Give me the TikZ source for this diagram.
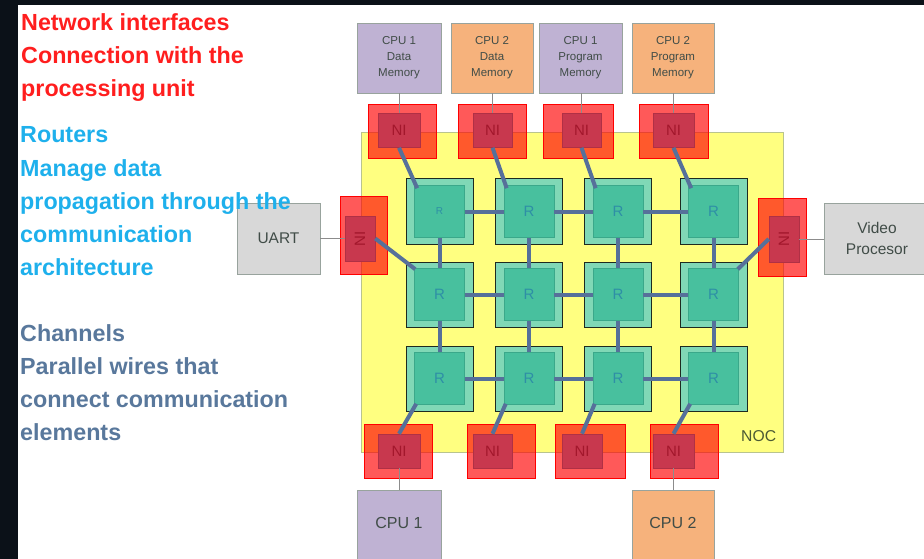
\documentclass[tikz,border=0pt]{standalone}
\usepackage{fontspec}
\setmainfont{Liberation Sans}
\definecolor{bgdark}{HTML}{0B1118}
\definecolor{niRed}{HTML}{FF1E1E}
\definecolor{rtBlue}{HTML}{1EB0EC}
\definecolor{chSlate}{HTML}{59789C}
\definecolor{nocyellow}{HTML}{FFFF80}
\definecolor{nocedge}{HTML}{B9C48E}
\definecolor{noctext}{HTML}{4C5A34}
\definecolor{boxedge}{HTML}{98A39D}
\definecolor{boxtext}{HTML}{404C47}
\definecolor{cpupurple}{HTML}{BFB2D3}
\definecolor{cpuorange}{HTML}{F6B27C}
\definecolor{iogray}{HTML}{D8D8D8}
\definecolor{nicore}{HTML}{C8384E}
\definecolor{nicoreedge}{HTML}{B03045}
\definecolor{nitext}{HTML}{A3172C}
\definecolor{routeredge}{HTML}{1E2A20}
\definecolor{routerlight}{HTML}{80D8B6}
\definecolor{routercore}{HTML}{48C09E}
\definecolor{routercoreedge}{HTML}{3AA88A}
\definecolor{rtext}{HTML}{2E8FA6}
\definecolor{linkblue}{HTML}{56709A}
\definecolor{wiregray}{HTML}{8C8C8C}
\begin{document}
\begin{tikzpicture}[x=1pt,y=-1pt,
  caption/.style={anchor=base west, inner sep=0pt, font=\fontsize{23.3pt}{33pt}\selectfont\bfseries},
  mem/.style={draw=boxedge, line width=0.8pt, inner sep=0pt, minimum height=70pt, align=center,
    text=boxtext, font=\fontsize{11.5pt}{16pt}\selectfont},
  purplebox/.style={mem, fill=cpupurple},
  orangebox/.style={mem, fill=cpuorange},
  iobox/.style={draw=boxedge, line width=0.8pt, fill=iogray, inner sep=0pt, minimum height=71pt,
    align=center, text=boxtext, font=\fontsize{15.5pt}{21pt}\selectfont},
  cpubox/.style={draw=boxedge, line width=0.8pt, inner sep=0pt, minimum width=84pt,
    text height=38pt, text depth=42pt, text=boxtext, font=\fontsize{16pt}{19pt}\selectfont},
  niouter/.style={draw=red, fill=red, fill opacity=0.65, line width=0.8pt, inner sep=0pt},
  niinner/.style={fill=nicore, draw=nicoreedge, line width=0.5pt, inner sep=0pt,
    minimum width=40pt, minimum height=34pt, text=nitext, font=\fontsize{15pt}{15pt}\selectfont},
  router/.style={draw=routeredge, fill=routerlight, line width=1pt, inner sep=0pt,
    minimum width=67pt, minimum height=65pt},
  rcore/.style={fill=routercore, draw=routercoreedge, line width=0.6pt, inner sep=0pt,
    minimum width=50pt, minimum height=52pt, text=rtext, font=\fontsize{15pt}{15pt}\selectfont},
  link/.style={draw=linkblue, line width=4pt},
  wire/.style={draw=wiregray, line width=0.8pt}]

\useasboundingbox (0,0) rectangle (924,559);
\fill[bgdark] (0,0) rectangle (924,559);
\fill[white] (18,5) rectangle (924,559);

% network-on-chip area
\node[draw=nocedge, fill=nocyellow, line width=0.8pt, inner sep=0pt,
      minimum width=422pt, minimum height=320pt] (noc) at (572,292) {};
\node[anchor=base west, inner sep=0pt, text=noctext, font=\fontsize{15.7pt}{16pt}\selectfont]
      (noclabel) at (741,441) {NOC};

% memories, peripherals and processing units
\node[purplebox, minimum width=84pt] (m1) at (399,58) {CPU 1\\Data\\Memory};
\node[orangebox, minimum width=82pt] (m2) at (492,58) {CPU 2\\Data\\Memory};
\node[purplebox, minimum width=83pt] (m3) at (580.5,58) {CPU 1\\Program\\Memory};
\node[orangebox, minimum width=82pt] (m4) at (673,58) {CPU 2\\Program\\Memory};
\node[iobox, minimum width=83pt] (uart) at (278.5,238.5) {UART};
\node[iobox, minimum width=106pt] (video) at (877,238.5) {Video\\Procesor};
\node[cpubox, fill=cpupurple, anchor=north] (cpu1) at (399,490) {CPU 1};
\node[cpubox, fill=cpuorange, anchor=north, minimum width=82pt] (cpu2) at (673,490) {CPU 2};

% translucent network interface frames
\node[niouter, minimum width=68pt, minimum height=54pt] (to1) at (402,131) {};
\node[niouter, minimum width=68pt, minimum height=54pt] (to2) at (492,131) {};
\node[niouter, minimum width=70pt, minimum height=54pt] (to3) at (578,131) {};
\node[niouter, minimum width=69pt, minimum height=54pt] (to4) at (673.5,131) {};
\node[niouter, minimum width=68pt, minimum height=54pt] (bo1) at (398,451) {};
\node[niouter, minimum width=68pt, minimum height=54pt] (bo2) at (501,451) {};
\node[niouter, minimum width=70pt, minimum height=54pt] (bo3) at (590,451) {};
\node[niouter, minimum width=68pt, minimum height=54pt] (bo4) at (684,451) {};
\node[niouter, minimum width=47pt, minimum height=78pt] (lo) at (363.5,235) {};
\node[niouter, minimum width=48pt, minimum height=78pt] (ro) at (782,237) {};

% network interface cores
\node[niinner, minimum width=42pt] (ti1) at (399,130.5) {NI};
\node[niinner, minimum width=39pt] (ti2) at (492.5,130.5) {NI};
\node[niinner, minimum width=39pt] (ti3) at (581.5,130.5) {NI};
\node[niinner, minimum width=41pt] (ti4) at (673.5,130.5) {NI};
\node[niinner, minimum width=42pt] (bi1) at (399,451) {NI};
\node[niinner, minimum width=39pt] (bi2) at (492.5,451) {NI};
\node[niinner, minimum width=40pt] (bi3) at (582,451) {NI};
\node[niinner, minimum width=41pt] (bi4) at (673.5,451) {NI};
\node[niinner, minimum width=30pt, minimum height=45pt] (li) at (360,238.5) {\rotatebox{90}{NI}};
\node[niinner, minimum width=30pt, minimum height=46pt] (ri) at (784,239) {\rotatebox{90}{NI}};

% thin attachment wires
\draw[wire] (ti1.north |- m1.south) -- (ti1.north);
\draw[wire] (ti2.north |- m2.south) -- (ti2.north);
\draw[wire] (ti3.north |- m3.south) -- (ti3.north);
\draw[wire] (ti4.north |- m4.south) -- (ti4.north);
\draw[wire] (bi1.south) -- (bi1.south |- cpu1.north);
\draw[wire] (bi4.south) -- (bi4.south |- cpu2.north);
\draw[wire] (uart.east) -- (li.west);
\draw[wire] (ri.east) -- (ri.east -| video.west);

% routers
\node[router] (o11) at (439.5,211.5) {};
\node[router] (o12) at (529,211.5) {};
\node[router] (o13) at (618,211.5) {};
\node[router] (o14) at (713.5,211.5) {};
\node[router] (o21) at (439.5,294.5) {};
\node[router] (o22) at (529,294.5) {};
\node[router] (o23) at (618,294.5) {};
\node[router] (o24) at (713.5,294.5) {};
\node[router] (o31) at (439.5,378.5) {};
\node[router] (o32) at (529,378.5) {};
\node[router] (o33) at (618,378.5) {};
\node[router] (o34) at (713.5,378.5) {};
\node[rcore, font=\fontsize{10pt}{10pt}\selectfont] (r11) at (o11) {R};
\node[rcore] (r12) at (o12) {R};
\node[rcore] (r13) at (o13) {R};
\node[rcore] (r14) at (o14) {R};
\node[rcore] (r21) at (o21) {R};
\node[rcore] (r22) at (o22) {R};
\node[rcore] (r23) at (o23) {R};
\node[rcore] (r24) at (o24) {R};
\node[rcore] (r31) at (o31) {R};
\node[rcore] (r32) at (o32) {R};
\node[rcore] (r33) at (o33) {R};
\node[rcore] (r34) at (o34) {R};

% channels between routers
\foreach \r in {1,2,3}
  \foreach \a/\b in {1/2,2/3,3/4}
    \draw[link] (r\r\a.east) -- (r\r\b.west);
\foreach \c in {1,2,3,4}
  \foreach \a/\b in {1/2,2/3}
    \draw[link] (r\a\c.south) -- (r\b\c.north);

% channels between interfaces and routers
\foreach \c in {1,2,3,4} {
  \draw[link] (ti\c.south) -- ([shift={(3,3)}]r1\c.north west);
  \draw[link] ([shift={(2,-1)}]r3\c.south west) -- (bi\c.north);
}
\draw[link] (li.east) -- ([shift={(1,1)}]r21.north west);
\draw[link] (ri.west) -- ([shift={(-1,1)}]r24.north east);

% explanatory text, set on top of everything
\node[caption, text=niRed] (t1) at (21,31) {Network interfaces};
\node[caption, text=niRed] (t2) at (21,64) {Connection with the};
\node[caption, text=niRed] (t3) at (21,97) {processing unit};
\node[caption, text=rtBlue] (t4) at (20,143) {Routers};
\node[caption, text=rtBlue] (t5) at (20,176) {Manage data};
\node[caption, text=rtBlue] (t6) at (20,209) {propagation through the};
\node[caption, text=rtBlue] (t7) at (20,242) {communication};
\node[caption, text=rtBlue] (t8) at (20,275) {architecture};
\node[caption, text=chSlate] (t9) at (20,341) {Channels};
\node[caption, text=chSlate] (t10) at (20,374) {Parallel wires that};
\node[caption, text=chSlate] (t11) at (20,407) {connect communication};
\node[caption, text=chSlate] (t12) at (20,440) {elements};
\end{tikzpicture}
\end{document}
